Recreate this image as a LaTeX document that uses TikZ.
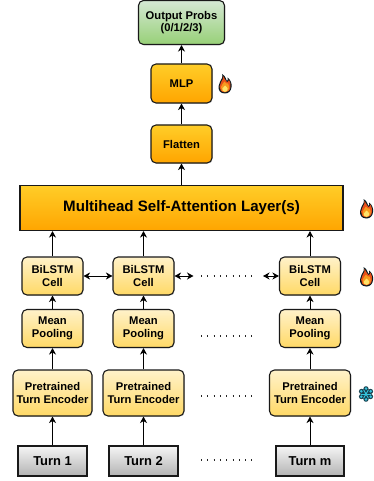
\documentclass[tikz,border=0pt]{standalone}
\usepackage{fontspec}
\setmainfont{Liberation Sans}
\usetikzlibrary{arrows.meta, shadows, positioning, calc}
\definecolor{flameRed}{HTML}{E8501A}
\definecolor{flameOrange}{HTML}{F79A1E}
\definecolor{flameYellow}{HTML}{FFE36A}
\definecolor{iceBlue}{HTML}{35C3DC}
\definecolor{iceDark}{HTML}{17414F}
\tikzset{
    boxBase/.style={draw=black!90, line width=1.1pt, align=center, inner sep=0pt, font=\bfseries\fontsize{11.2}{12.7}\selectfont, drop shadow={shadow xshift=0.8pt, shadow yshift=-0.8pt, opacity=0.25}},
    cellBox/.style={boxBase, rounded corners=5pt, top color=cellYellow!35!white, bottom color=cellYellow},
    hotBox/.style={boxBase, rounded corners=5pt, top color=hotTop, bottom color=hotBottom},
    probBox/.style={boxBase, rounded corners=5pt, top color=probTop, bottom color=probBottom},
    attnBox/.style={boxBase, top color=hotTop, bottom color=hotBottom, font=\bfseries\fontsize{15.1}{16}\selectfont},
    turnBox/.style={boxBase, top color=turnTop, bottom color=turnBottom, font=\bfseries\fontsize{12.9}{14}\selectfont},
    biEdge/.style={{Stealth[length=6.5pt, width=7pt, inset=2pt]}-{Stealth[length=6.5pt, width=7pt, inset=2pt]}, line width=1pt},
    upEdge/.style={-{Stealth[length=6.5pt, width=7pt, inset=2pt]}, line width=1pt},
    dotRow/.style={line width=1.1pt, black!85, dash pattern=on 1.1pt off 5.2pt},
}
\definecolor{cellYellow}{HTML}{FFD966}
\definecolor{hotTop}{HTML}{FFCD28}
\definecolor{hotBottom}{HTML}{FFA500}
\definecolor{probTop}{HTML}{D5E8D4}
\definecolor{probBottom}{HTML}{97D077}
\definecolor{turnTop}{HTML}{F5F5F5}
\definecolor{turnBottom}{HTML}{B3B3B3}
\newcommand{\drawFlame}[2]{
    \begin{scope}[shift={(#1,#2)}]
        \fill[iceDark!40!black] (0,9.5) .. controls (-5,9.5) and (-6.8,6) .. (-6.5,2.5) .. controls (-6.3,-1) and (-4,-3) .. (-3,-6) .. controls (-2.5,-7.5) and (-2.5,-9) .. (-3,-10) .. controls (1,-8) and (1,-4) .. (2,-3) .. controls (3,-4) and (3,-5) .. (2.5,-6.5) .. controls (6,-4) and (7,0) .. (6.5,3) .. controls (6.2,7) and (3.5,9.5) .. (0,9.5) -- cycle;
        \fill[flameRed] (0,8.3) .. controls (-4,8.3) and (-5.6,5.5) .. (-5.4,2.5) .. controls (-5.2,-0.5) and (-3,-3) .. (-2.2,-5) .. controls (-1.9,-6) and (-2,-7) .. (-2,-8) .. controls (0,-6) and (0,-3) .. (2,-1.8) .. controls (3.6,-2.4) and (4,-3.5) .. (3.8,-4.6) .. controls (5.5,-2) and (5.7,0.5) .. (5.4,3) .. controls (5,6.5) and (3,8.3) .. (0,8.3) -- cycle;
        \fill[flameOrange] (0,8) .. controls (-3,8) and (-4.4,5.5) .. (-4,3) .. controls (-3.6,0.5) and (-1.5,-0.5) .. (-0.5,-2.5) .. controls (0.5,-0.5) and (2,0) .. (3,-0.5) .. controls (4.2,1.5) and (4.4,3) .. (4,4.5) .. controls (3.4,6.8) and (2,8) .. (0,8) -- cycle;
        \fill[flameYellow] (0,7.8) .. controls (-2.2,7.8) and (-3,6) .. (-2.6,4.5) .. controls (-2.2,3) and (-0.8,2.6) .. (0,1.5) .. controls (0.8,2.6) and (2.4,3) .. (2.7,4.6) .. controls (3,6.2) and (1.8,7.8) .. (0,7.8) -- cycle;
    \end{scope}
}
\newcommand{\drawSnow}[2]{
    \begin{scope}[shift={(#1,#2)}]
        \fill[iceDark] (0,0) circle (5.6pt);
        \foreach \ang in {30,90,...,330}{
            \fill[iceDark] (\ang:5.2) circle (2.6pt);
        }
        \foreach \ang in {30,90,...,330}{
            \fill[iceBlue] (\ang:5.4) circle (1.4pt);
            \draw[iceBlue, line width=0.9pt] (0,0) -- (\ang+30:4.6);
        }
        \fill[iceBlue] (0,0) circle (1.3pt);
    \end{scope}
}
\begin{document}
\begin{tikzpicture}[x=1pt, y=-1pt]
    \useasboundingbox (0,0) rectangle (374,481);

    \node[probBox, minimum width=86pt, minimum height=44pt] (probs) at (181.5,22.5) {Output Probs\\(0/1/2/3)};
    \node[hotBox, minimum width=61pt, minimum height=39pt] (mlp) at (181.5,83.5) {MLP};
    \node[hotBox, minimum width=61pt, minimum height=38pt] (flatten) at (181.5,144) {Flatten};
    \node[attnBox, minimum width=323pt, minimum height=45pt] (attn) at (181.5,208) {Multihead Self-Attention Layer(s)};

    \node[cellBox, minimum width=61pt, minimum height=38pt] (bilstmA) at (52.5,276) {BiLSTM\\Cell};
    \node[cellBox, minimum width=61pt, minimum height=38pt] (bilstmB) at (143.5,276) {BiLSTM\\Cell};
    \node[cellBox, minimum width=61pt, minimum height=38pt] (bilstmC) at (310,276) {BiLSTM\\Cell};

    \node[cellBox, minimum width=61pt, minimum height=38pt] (poolA) at (52.5,328.5) {Mean\\Pooling};
    \node[cellBox, minimum width=61pt, minimum height=38pt] (poolB) at (143.5,328.5) {Mean\\Pooling};
    \node[cellBox, minimum width=61pt, minimum height=38pt] (poolC) at (310,328.5) {Mean\\Pooling};

    \node[cellBox, minimum width=79pt, minimum height=46pt] (encA) at (52.5,393) {Pretrained\\Turn Encoder};
    \node[cellBox, minimum width=81pt, minimum height=46pt] (encB) at (143.5,393) {Pretrained\\Turn Encoder};
    \node[cellBox, minimum width=81pt, minimum height=46pt] (encC) at (310,393) {Pretrained\\Turn Encoder};

    \node[turnBox, minimum width=69pt, minimum height=30pt] (turnA) at (52.5,461) {Turn 1};
    \node[turnBox, minimum width=69pt, minimum height=30pt] (turnB) at (143.5,461) {Turn 2};
    \node[turnBox, minimum width=68pt, minimum height=30pt] (turnC) at (310,461) {Turn m};

    % up the columns
    \draw[upEdge] (turnA) -- (encA);
    \draw[upEdge] (turnB) -- (encB);
    \draw[upEdge] (turnC) -- (encC);
    \draw[upEdge] (encA) -- (poolA);
    \draw[upEdge] (encB) -- (poolB);
    \draw[upEdge] (encC) -- (poolC);
    \draw[upEdge] (poolA) -- (bilstmA);
    \draw[upEdge] (poolB) -- (bilstmB);
    \draw[upEdge] (poolC) -- (bilstmC);
    \draw[upEdge] (bilstmA) -- (bilstmA |- attn.south);
    \draw[upEdge] (bilstmB) -- (bilstmB |- attn.south);
    \draw[upEdge] (bilstmC) -- (bilstmC |- attn.south);
    \draw[upEdge] (attn) -- (flatten);
    \draw[upEdge] (flatten) -- (mlp);
    \draw[upEdge] (mlp) -- (probs);

    % sideways
    \coordinate (gapL) at (193.5,276);
    \coordinate (gapR) at (263,276);
    \draw[biEdge] (bilstmA) -- (bilstmB);
    \draw[biEdge] (bilstmB) -- (gapL);
    \draw[biEdge] (gapR) -- (bilstmC);

    \coordinate (dotsAL) at (201,276);
    \coordinate (dotsAR) at (252,276);
    \coordinate (dotsBL) at (201,336);
    \coordinate (dotsBR) at (252,336);
    \coordinate (dotsCL) at (201,396);
    \coordinate (dotsCR) at (252,396);
    \coordinate (dotsDL) at (201,460);
    \coordinate (dotsDR) at (252,460);
    \draw[dotRow] (dotsAL) -- (dotsAR);
    \draw[dotRow] (dotsBL) -- (dotsBR);
    \draw[dotRow] (dotsCL) -- (dotsCR);
    \draw[dotRow] (dotsDL) -- (dotsDR);

    \drawFlame{225}{84}
    \drawFlame{366.5}{209}
    \drawFlame{366.5}{277}
    \drawSnow{366}{394}
\end{tikzpicture}
\end{document}
